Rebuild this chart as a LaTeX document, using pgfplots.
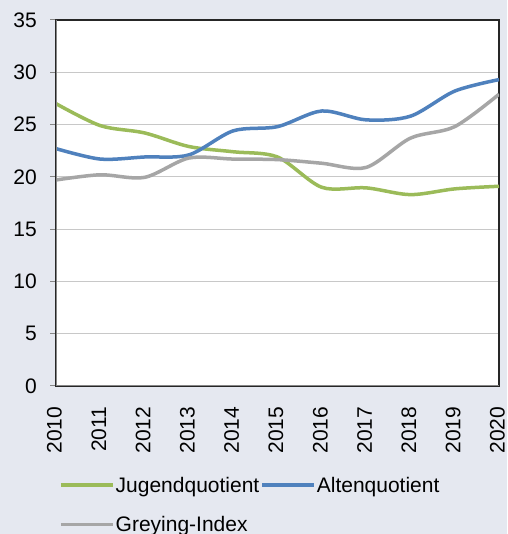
\documentclass[border=0pt]{standalone}
\usepackage{pgfplots}
\pgfplotsset{compat=1.18}
\usepackage{fontspec}
\setmainfont{Liberation Sans}
\definecolor{bg}{RGB}{229,232,240}
\definecolor{cgreen}{RGB}{155,187,89}
\definecolor{cblue}{RGB}{79,129,189}
\definecolor{cgray}{RGB}{166,166,166}
\definecolor{gridc}{RGB}{200,200,200}
\definecolor{axc}{RGB}{134,134,134}
\begin{document}
\begin{tikzpicture}[x=1pt,y=1pt]
\fill[bg] (0,0) rectangle (507,534);
\useasboundingbox (0,0) rectangle (507,534);
\begin{axis}[
  at={(56pt,148pt)}, anchor=south west,
  scale only axis, width=443pt, height=366pt,
  xmin=2010, xmax=2020, ymin=0, ymax=35,
  xtick={2010,2011,...,2020}, ytick={0,5,...,35},
  /pgf/number format/assume math mode=true,
  /pgf/number format/1000 sep={},
  xticklabel style={xshift=-1.5pt, yshift=-1.5pt, rotate=90, anchor=east, inner sep=0pt},
  xticklabel shift=13pt,
  yticklabel style={anchor=east, inner sep=0pt, xshift=-13pt},
  tick label style={font=\fontsize{21}{25}\selectfont},
  xtick style={draw=none},
  ytick pos=left,
  tick align=outside, major tick length=6pt,
  ytick style={color=axc, line width=1pt},
  ymajorgrids, grid style={color=gridc, line width=1pt},
  axis line style={black!85, line width=1.3pt},
  axis background/.style={fill=white},
  legend columns=2,
  legend cell align=left,
  legend style={draw=none, fill=none, inner sep=0pt,
    at={(axis description cs:0.0068,-0.245)}, anchor=north west,
    font=\fontsize{21}{25}\selectfont,
    nodes={inner sep=1pt},
    row sep=20.5pt, column sep=0pt},
  legend image code/.code={\draw[#1, line width=3.5pt] (0pt,0pt) -- (52pt,0pt);},
  every axis plot/.append style={line width=3.5pt, smooth, tension=0.5},
]
\addplot[cgreen] coordinates {(2010,27.0) (2011,24.9) (2012,24.2) (2013,22.9) (2014,22.4) (2015,21.9) (2016,19.0) (2017,18.95) (2018,18.3) (2019,18.85) (2020,19.1)};
\addlegendentry{Jugendquotient}
\addplot[cblue] coordinates {(2010,22.7) (2011,21.7) (2012,21.9) (2013,22.1) (2014,24.4) (2015,24.8) (2016,26.3) (2017,25.45) (2018,25.8) (2019,28.2) (2020,29.3)};
\addlegendentry{Altenquotient}
\addplot[cgray] coordinates {(2010,19.7) (2011,20.2) (2012,19.95) (2013,21.8) (2014,21.7) (2015,21.65) (2016,21.3) (2017,20.9) (2018,23.7) (2019,24.8) (2020,27.9)};
\addlegendentry{Greying-Index}
\draw[axc, line width=1.5pt] (rel axis cs:0,1) -- (rel axis cs:0,0) -- (rel axis cs:1,0);
\end{axis}
\end{tikzpicture}
\end{document}
